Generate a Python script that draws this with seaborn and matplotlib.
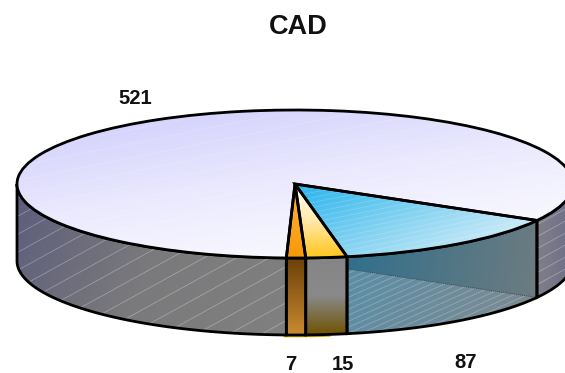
import numpy as np
import matplotlib
matplotlib.use("Agg")
import matplotlib.pyplot as plt
import seaborn as sns
from matplotlib.collections import LineCollection
from matplotlib.patches import Polygon

# data, clockwise from the right hand edge of the blue slice
slice_values = [87, 15, 7, 521]
slice_labels = ["87", "15", "7", "521"]
title_text = "CAD"
start_angle = -29.5

# pie geometry in pixels of the 565x373 picture
W, H = 565, 373
CX, CY, RX, RY, DEPTH = 295, 184, 278, 74, 77

sns.set_theme(style="white")
plt.rcParams["font.family"] = ["Liberation Sans", "DejaVu Sans"]

fig = plt.figure(figsize=(W / 100, H / 100), dpi=100)
ax = fig.add_axes([0, 0, 1, 1])


def limits():
    ax.set_xlim(-CX / RX, (W - CX) / RX)
    ax.set_ylim((CY - H) / RY, CY / RY)
    ax.set_aspect("auto")


def to_data(px, py):
    return (px - CX) / RX, (CY - py) / RY


def shade(patch, colors, direction, zorder):
    # gradient image clipped to a patch
    cmap = sns.blend_palette(colors, as_cmap=True)
    box = patch.get_path().get_extents(patch.get_patch_transform())
    xx, yy = np.meshgrid(np.linspace(0, 1, 200), np.linspace(0, 1, 200))
    t = xx * direction[0] + yy * direction[1]
    t = (t - t.min()) / (t.max() - t.min())
    im = ax.imshow(t, cmap=cmap, origin="lower", aspect="auto", zorder=zorder,
                   extent=(box.x0, box.x1, box.y0, box.y1), vmin=0, vmax=1)
    im.set_clip_path(patch)


def streaks(patch, slope, step, alpha, zorder):
    # thin pale lines of the fill pattern
    segs = []
    for c in np.arange(100, 900, step):
        a = to_data(0, c)
        b = to_data(W, c + slope * W)
        segs.append([a, b])
    lc = LineCollection(segs, colors="white", linewidths=0.6, alpha=alpha, zorder=zorder)
    ax.add_collection(lc)
    lc.set_clip_path(patch)


def wall(theta1, theta2):
    # side face between two angles
    t = np.radians(np.linspace(theta1, theta2, 80))
    d = DEPTH / RY
    x = np.cos(t)
    y = np.sin(t)
    pts = np.r_[np.c_[x, y], np.c_[x, y - d][::-1]]
    p = Polygon(pts, closed=True, facecolor="none", edgecolor="black", lw=2, zorder=5)
    ax.add_patch(p)
    return p


wedges, _ = ax.pie(slice_values, startangle=start_angle, counterclock=False, radius=1,
                   wedgeprops=dict(facecolor="none", edgecolor="black", linewidth=2, zorder=7),
                   frame=False)
blue, gold, orange, rest = wedges

# top faces
shade(rest, ["#cecbfb", "#ecebfe", "#ffffff"], (0.55, -1), 6)
shade(blue, ["#27b4ee", "#8fd6f2", "#eef7fb"], (1, -0.6), 6)
shade(gold, ["#ffffff", "#ffe9a8", "#ffc61a"], (0, -1), 6)
shade(orange, ["#ffb23a", "#f79a08"], (0, -1), 6)
streaks(rest, -0.2, 14, 0.18, 6.5)
streaks(blue, -0.2, 5, 0.18, 6.5)

# side faces
left = wall(-180, rest.theta2)
shade(left, ["#5c5c7c", "#7a7a7c", "#808080"], (1, -0.3), 4)
streaks(left, -0.55, 18, 0.3, 4.5)

right = wall(blue.theta2, 0)
shade(right, ["#808088", "#6c6c88"], (1, 0), 4)
streaks(right, -0.55, 12, 0.3, 4.5)

front_orange = wall(orange.theta1, orange.theta2)
shade(front_orange, ["#c98a30", "#6b3f08"], (0, 1), 4)

front_gold = wall(gold.theta1, gold.theta2)
shade(front_gold, ["#6f5200", "#8a8a8a", "#858585"], (0, 1), 4)

front_blue = wall(blue.theta1, blue.theta2)
shade(front_blue, ["#2f6f8c", "#6f7c80"], (1, -0.1), 4)

# lower part of the blue wall, seen through it
d = DEPTH / RY
t = np.radians(np.linspace(blue.theta1, blue.theta2, 60))
rim = np.c_[np.cos(t), np.sin(t) - d]
lo_x = np.cos(np.radians(blue.theta1))
hi_x, hi_y = np.cos(np.radians(blue.theta2)), np.sin(np.radians(blue.theta2)) - d
lo_y = -d + (hi_y + d) * lo_x / hi_x
lower = Polygon(np.r_[rim, [[lo_x, lo_y]]], closed=True,
                facecolor="none", edgecolor="none", zorder=4.2)
ax.add_patch(lower)
shade(lower, ["#5b8ea6", "#808a90"], (1, -0.2), 4.2)
streaks(lower, -0.45, 6, 0.25, 4.4)
ax.plot([lo_x, hi_x], [lo_y, hi_y], color="#3a4a55", lw=0.7, ls=(0, (1, 1)), zorder=4.6)

# gold sliver below the rim
t = np.radians(np.linspace(orange.theta1 - 0.5, gold.theta1 + 5, 20))
ax.plot(np.cos(t), np.sin(t) - d - 0.02, color="#e0a800", lw=1.2, zorder=3)

limits()
ax.set_xticks([])
ax.set_yticks([])
ax.set_frame_on(False)

# text
fig.text(298 / W, 1 - 27 / H, title_text, ha="center", va="center", fontsize=19.5,
         fontweight="bold", color="#111111")
label_pos = {"87": (466, 362), "15": (343, 364), "7": (291, 364), "521": (135, 99)}
for lab in slice_labels:
    px, py = label_pos[lab]
    fig.text(px / W, 1 - py / H, lab, ha="center", va="center", fontsize=14.5,
             fontweight="bold", color="#111111")

fig.savefig("out.png", dpi=100)
